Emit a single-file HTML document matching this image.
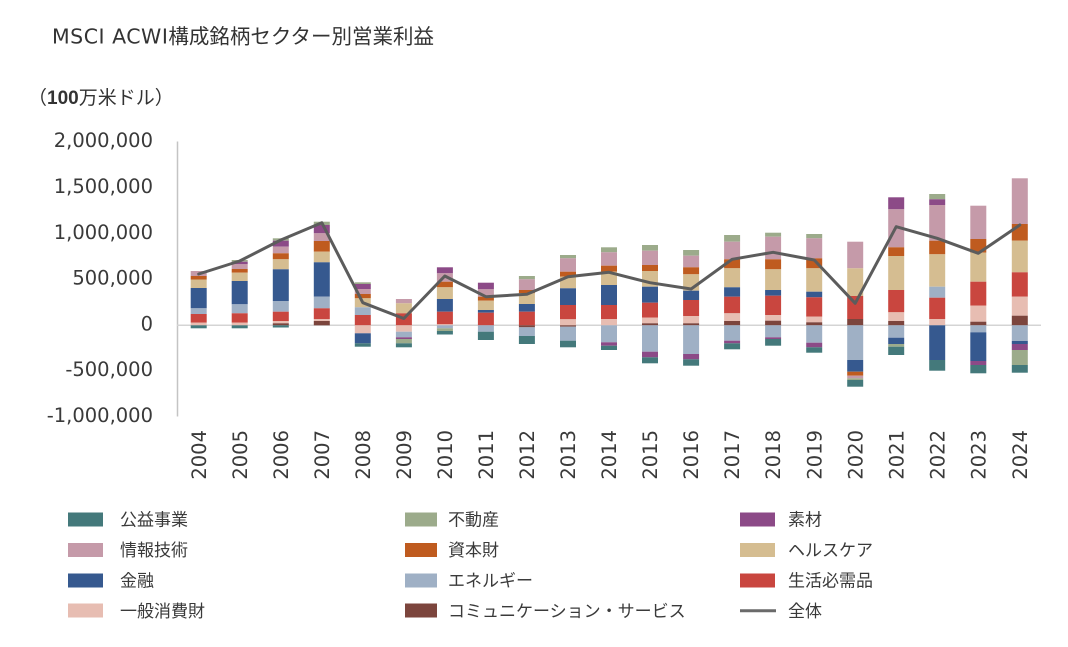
<!DOCTYPE html>
<html>
<head>
<meta charset="utf-8">
<style>
html,body{margin:0;padding:0;background:#fff;}
svg{display:block;}
.ut{fill:#44797b}.re{fill:#9cab8b}.ma{fill:#8c4a87}.it{fill:#c59aa9}.in{fill:#bf5b1f}
.hc{fill:#d5bd91}.fi{fill:#36598f}.en{fill:#9fb0c5}.cs{fill:#c9463f}.cd{fill:#e7bdb2}.cm{fill:#7c453d}
.yl{font-family:"DejaVu Sans","Liberation Sans",sans-serif;font-size:19.5px;fill:#3a3a3a;text-anchor:end;}
.xl{font-family:"DejaVu Sans","Liberation Sans",sans-serif;font-size:19.5px;fill:#3a3a3a;text-anchor:end;}
.lg{font-family:"Liberation Sans","Noto Sans CJK JP",sans-serif;font-size:17px;fill:#3a3a3a;}
</style>
</head>
<body>
<svg width="1068" height="647" viewBox="0 0 1068 647" xmlns="http://www.w3.org/2000/svg">
<rect width="1068" height="647" fill="#fff"/>
<text x="52" y="43.5" style="font-family:'Liberation Sans','Noto Sans CJK JP',sans-serif;font-size:20.5px;fill:#333;"><tspan style="font-family:'DejaVu Sans',sans-serif;letter-spacing:0.5px;">MSCI ACWI</tspan>構成銘柄セクター別営業利益</text>
<text x="28" y="104" style="font-family:'Liberation Sans','Noto Sans CJK JP',sans-serif;font-size:19px;fill:#333;">（<tspan font-weight="bold">100</tspan>万米ドル）</text>

<!-- y labels -->
<text class="yl" x="153" y="147">2,000,000</text>
<text class="yl" x="153" y="193">1,500,000</text>
<text class="yl" x="153" y="239">1,000,000</text>
<text class="yl" x="153" y="284.5">500,000</text>
<text class="yl" x="153" y="330.5">0</text>
<text class="yl" x="153" y="376">-500,000</text>
<text class="yl" x="153" y="422">-1,000,000</text>

<!-- axis -->
<line x1="177.5" y1="141.5" x2="177.5" y2="416.5" stroke="#c4c4c4" stroke-width="1.5"/>
<line x1="177" y1="325.3" x2="1041" y2="325.3" stroke="#d4d4d4" stroke-width="1.5"/>

<!-- bars -->
<g transform="translate(190.7,0)"><rect class="it" x="0" width="16" y="271" height="5"/><rect class="in" x="0" width="16" y="276" height="3.5"/><rect class="hc" x="0" width="16" y="279.5" height="8.5"/><rect class="fi" x="0" width="16" y="288" height="20.3"/><rect class="en" x="0" width="16" y="308.3" height="5.7"/><rect class="cs" x="0" width="16" y="314" height="8.7"/><rect class="cd" x="0" width="16" y="322.7" height="2.6"/><rect class="ut" x="0" width="16" y="325.3" height="3"/></g>
<g transform="translate(231.7,0)"><rect class="re" x="0" width="16" y="260" height="1.7"/><rect class="ma" x="0" width="16" y="261.7" height="2.6"/><rect class="it" x="0" width="16" y="264.3" height="4.7"/><rect class="in" x="0" width="16" y="269" height="3.7"/><rect class="hc" x="0" width="16" y="272.7" height="8.3"/><rect class="fi" x="0" width="16" y="281" height="23.3"/><rect class="en" x="0" width="16" y="304.3" height="9"/><rect class="cs" x="0" width="16" y="313.3" height="9.4"/><rect class="cd" x="0" width="16" y="322.7" height="2.6"/><rect class="ut" x="0" width="16" y="325.3" height="3"/></g>
<g transform="translate(272.8,0)"><rect class="re" x="0" width="16" y="238.3" height="2.4"/><rect class="ma" x="0" width="16" y="240.7" height="6"/><rect class="it" x="0" width="16" y="246.7" height="6.6"/><rect class="in" x="0" width="16" y="253.3" height="6"/><rect class="hc" x="0" width="16" y="259.3" height="10"/><rect class="fi" x="0" width="16" y="269.3" height="31.7"/><rect class="en" x="0" width="16" y="301" height="10.7"/><rect class="cs" x="0" width="16" y="311.7" height="9.3"/><rect class="cd" x="0" width="16" y="321" height="2.3"/><rect class="cm" x="0" width="16" y="323.3" height="2"/><rect class="ut" x="0" width="16" y="325.3" height="2.2"/></g>
<g transform="translate(313.8,0)"><rect class="re" x="0" width="16" y="221.7" height="3.3"/><rect class="ma" x="0" width="16" y="225" height="8.3"/><rect class="it" x="0" width="16" y="233.3" height="7.7"/><rect class="in" x="0" width="16" y="241" height="10.7"/><rect class="hc" x="0" width="16" y="251.7" height="10.6"/><rect class="fi" x="0" width="16" y="262.3" height="34.4"/><rect class="en" x="0" width="16" y="296.7" height="11.6"/><rect class="cs" x="0" width="16" y="308.3" height="10.7"/><rect class="cd" x="0" width="16" y="319" height="2"/><rect class="cm" x="0" width="16" y="321" height="4.3"/></g>
<g transform="translate(354.8,0)"><rect class="re" x="0" width="16" y="282.3" height="1.7"/><rect class="ma" x="0" width="16" y="284" height="5"/><rect class="it" x="0" width="16" y="289" height="5"/><rect class="in" x="0" width="16" y="294" height="4.3"/><rect class="hc" x="0" width="16" y="298.3" height="9"/><rect class="en" x="0" width="16" y="307.3" height="7.7"/><rect class="cs" x="0" width="16" y="315" height="10.3"/><rect class="cd" x="0" width="16" y="325.3" height="8"/><rect class="fi" x="0" width="16" y="333.3" height="10"/><rect class="ut" x="0" width="16" y="343.3" height="3.4"/></g>
<g transform="translate(395.9,0)"><rect class="it" x="0" width="16" y="299" height="4.3"/><rect class="hc" x="0" width="16" y="303.3" height="10"/><rect class="cs" x="0" width="16" y="313.3" height="12"/><rect class="cd" x="0" width="16" y="325.3" height="6.4"/><rect class="en" x="0" width="16" y="331.7" height="5.6"/><rect class="ma" x="0" width="16" y="337.3" height="1.7"/><rect class="re" x="0" width="16" y="339" height="4.3"/><rect class="ut" x="0" width="16" y="343.3" height="4"/></g>
<g transform="translate(436.9,0)"><rect class="ma" x="0" width="16" y="267.3" height="6"/><rect class="it" x="0" width="16" y="273.3" height="8.4"/><rect class="in" x="0" width="16" y="281.7" height="5.6"/><rect class="hc" x="0" width="16" y="287.3" height="11.7"/><rect class="fi" x="0" width="16" y="299" height="12.7"/><rect class="cs" x="0" width="16" y="311.7" height="12.6"/><rect class="cd" x="0" width="16" y="324.3" height="1"/><rect class="en" x="0" width="16" y="325.3" height="3"/><rect class="re" x="0" width="16" y="328.3" height="2.7"/><rect class="ut" x="0" width="16" y="331" height="3.5"/></g>
<g transform="translate(477.9,0)"><rect class="ma" x="0" width="16" y="282.7" height="6.6"/><rect class="it" x="0" width="16" y="289.3" height="7.4"/><rect class="in" x="0" width="16" y="296.7" height="4"/><rect class="hc" x="0" width="16" y="300.7" height="9.3"/><rect class="fi" x="0" width="16" y="310" height="2.7"/><rect class="cs" x="0" width="16" y="312.7" height="12.6"/><rect class="en" x="0" width="16" y="325.3" height="6.4"/><rect class="ut" x="0" width="16" y="331.7" height="8.3"/></g>
<g transform="translate(518.9,0)"><rect class="re" x="0" width="16" y="276" height="3.3"/><rect class="it" x="0" width="16" y="279.3" height="10.7"/><rect class="in" x="0" width="16" y="290" height="3.3"/><rect class="hc" x="0" width="16" y="293.3" height="10.7"/><rect class="fi" x="0" width="16" y="304" height="7.7"/><rect class="cs" x="0" width="16" y="311.7" height="13.6"/><rect class="cm" x="0" width="16" y="325.3" height="2"/><rect class="en" x="0" width="16" y="327.3" height="8.7"/><rect class="ut" x="0" width="16" y="336" height="8"/></g>
<g transform="translate(560,0)"><rect class="re" x="0" width="16" y="255" height="3.3"/><rect class="it" x="0" width="16" y="258.3" height="13.4"/><rect class="in" x="0" width="16" y="271.7" height="5"/><rect class="hc" x="0" width="16" y="276.7" height="11.6"/><rect class="fi" x="0" width="16" y="288.3" height="16.7"/><rect class="cs" x="0" width="16" y="305" height="14.3"/><rect class="cd" x="0" width="16" y="319.3" height="6"/><rect class="cm" x="0" width="16" y="325.3" height="1.4"/><rect class="en" x="0" width="16" y="326.7" height="14"/><rect class="ut" x="0" width="16" y="340.7" height="6.6"/></g>
<g transform="translate(601,0)"><rect class="re" x="0" width="16" y="247.3" height="5"/><rect class="it" x="0" width="16" y="252.3" height="13.4"/><rect class="in" x="0" width="16" y="265.7" height="6"/><rect class="hc" x="0" width="16" y="271.7" height="13.3"/><rect class="fi" x="0" width="16" y="285" height="20"/><rect class="cs" x="0" width="16" y="305" height="14"/><rect class="cd" x="0" width="16" y="319" height="6.3"/><rect class="en" x="0" width="16" y="325.3" height="17"/><rect class="ma" x="0" width="16" y="342.3" height="3.4"/><rect class="ut" x="0" width="16" y="345.7" height="4.3"/></g>
<g transform="translate(642,0)"><rect class="re" x="0" width="16" y="245" height="5.7"/><rect class="it" x="0" width="16" y="250.7" height="14.3"/><rect class="in" x="0" width="16" y="265" height="6"/><rect class="hc" x="0" width="16" y="271" height="15.7"/><rect class="fi" x="0" width="16" y="286.7" height="16"/><rect class="cs" x="0" width="16" y="302.7" height="15"/><rect class="cd" x="0" width="16" y="317.7" height="5.6"/><rect class="cm" x="0" width="16" y="323.3" height="2"/><rect class="en" x="0" width="16" y="325.3" height="26.4"/><rect class="ma" x="0" width="16" y="351.7" height="5.6"/><rect class="ut" x="0" width="16" y="357.3" height="6"/></g>
<g transform="translate(683.1,0)"><rect class="re" x="0" width="16" y="250" height="5.7"/><rect class="it" x="0" width="16" y="255.7" height="11.6"/><rect class="in" x="0" width="16" y="267.3" height="7"/><rect class="hc" x="0" width="16" y="274.3" height="16.4"/><rect class="fi" x="0" width="16" y="290.7" height="9.3"/><rect class="cs" x="0" width="16" y="300" height="16"/><rect class="cd" x="0" width="16" y="316" height="7.3"/><rect class="cm" x="0" width="16" y="323.3" height="2"/><rect class="en" x="0" width="16" y="325.3" height="28.7"/><rect class="ma" x="0" width="16" y="354" height="5.3"/><rect class="ut" x="0" width="16" y="359.3" height="6.4"/></g>
<g transform="translate(724.1,0)"><rect class="re" x="0" width="16" y="235" height="6.7"/><rect class="it" x="0" width="16" y="241.7" height="17.6"/><rect class="in" x="0" width="16" y="259.3" height="9"/><rect class="hc" x="0" width="16" y="268.3" height="19"/><rect class="fi" x="0" width="16" y="287.3" height="9.4"/><rect class="cs" x="0" width="16" y="296.7" height="16.6"/><rect class="cd" x="0" width="16" y="313.3" height="7.7"/><rect class="cm" x="0" width="16" y="321" height="4.3"/><rect class="en" x="0" width="16" y="325.3" height="15.4"/><rect class="ma" x="0" width="16" y="340.7" height="2.6"/><rect class="ut" x="0" width="16" y="343.3" height="6"/></g>
<g transform="translate(765.1,0)"><rect class="re" x="0" width="16" y="232.7" height="4"/><rect class="it" x="0" width="16" y="236.7" height="22.6"/><rect class="in" x="0" width="16" y="259.3" height="10"/><rect class="hc" x="0" width="16" y="269.3" height="20.7"/><rect class="fi" x="0" width="16" y="290" height="5.7"/><rect class="cs" x="0" width="16" y="295.7" height="19.3"/><rect class="cd" x="0" width="16" y="315" height="5.7"/><rect class="cm" x="0" width="16" y="320.7" height="4.6"/><rect class="en" x="0" width="16" y="325.3" height="12"/><rect class="ma" x="0" width="16" y="337.3" height="1.7"/><rect class="ut" x="0" width="16" y="339" height="6.7"/></g>
<g transform="translate(806.2,0)"><rect class="re" x="0" width="16" y="234" height="4.3"/><rect class="it" x="0" width="16" y="238.3" height="20"/><rect class="in" x="0" width="16" y="258.3" height="10"/><rect class="hc" x="0" width="16" y="268.3" height="23.4"/><rect class="fi" x="0" width="16" y="291.7" height="5.6"/><rect class="cs" x="0" width="16" y="297.3" height="19.4"/><rect class="cd" x="0" width="16" y="316.7" height="5.6"/><rect class="cm" x="0" width="16" y="322.3" height="3"/><rect class="en" x="0" width="16" y="325.3" height="17.4"/><rect class="ma" x="0" width="16" y="342.7" height="4.6"/><rect class="ut" x="0" width="16" y="347.3" height="5.4"/></g>
<g transform="translate(847.2,0)"><rect class="it" x="0" width="16" y="241.7" height="26.6"/><rect class="hc" x="0" width="16" y="268.3" height="27.7"/><rect class="cs" x="0" width="16" y="296" height="23"/><rect class="cm" x="0" width="16" y="319" height="6.3"/><rect class="en" x="0" width="16" y="325.3" height="34.7"/><rect class="fi" x="0" width="16" y="360" height="11.7"/><rect class="in" x="0" width="16" y="371.7" height="4"/><rect class="it" x="0" width="16" y="375.7" height="2.6"/><rect class="re" x="0" width="16" y="378.3" height="1.7"/><rect class="ut" x="0" width="16" y="380" height="6.7"/></g>
<g transform="translate(888.2,0)"><rect class="ma" x="0" width="16" y="197.3" height="12"/><rect class="it" x="0" width="16" y="209.3" height="38"/><rect class="in" x="0" width="16" y="247.3" height="8.7"/><rect class="hc" x="0" width="16" y="256" height="34"/><rect class="cs" x="0" width="16" y="290" height="22.3"/><rect class="cd" x="0" width="16" y="312.3" height="8.7"/><rect class="cm" x="0" width="16" y="321" height="4.3"/><rect class="en" x="0" width="16" y="325.3" height="12.4"/><rect class="fi" x="0" width="16" y="337.7" height="6.3"/><rect class="re" x="0" width="16" y="344" height="2.7"/><rect class="ut" x="0" width="16" y="346.7" height="8.3"/></g>
<g transform="translate(929.2,0)"><rect class="re" x="0" width="16" y="194" height="5.3"/><rect class="ma" x="0" width="16" y="199.3" height="5.7"/><rect class="it" x="0" width="16" y="205" height="35.7"/><rect class="in" x="0" width="16" y="240.7" height="13.6"/><rect class="hc" x="0" width="16" y="254.3" height="32.4"/><rect class="en" x="0" width="16" y="286.7" height="11"/><rect class="cs" x="0" width="16" y="297.7" height="21.3"/><rect class="cd" x="0" width="16" y="319" height="6.3"/><rect class="fi" x="0" width="16" y="325.3" height="34.7"/><rect class="ut" x="0" width="16" y="360" height="10.7"/></g>
<g transform="translate(970.3,0)"><rect class="it" x="0" width="16" y="205.7" height="33.3"/><rect class="in" x="0" width="16" y="239" height="13.7"/><rect class="hc" x="0" width="16" y="252.7" height="29"/><rect class="cs" x="0" width="16" y="281.7" height="24"/><rect class="cd" x="0" width="16" y="305.7" height="16"/><rect class="cm" x="0" width="16" y="321.7" height="3.6"/><rect class="en" x="0" width="16" y="325.3" height="7"/><rect class="fi" x="0" width="16" y="332.3" height="28.7"/><rect class="ma" x="0" width="16" y="361" height="4"/><rect class="ut" x="0" width="16" y="365" height="8.3"/></g>
<g transform="translate(1011.8,0)"><rect class="it" x="0" width="16" y="178.3" height="45.7"/><rect class="in" x="0" width="16" y="224" height="16.7"/><rect class="hc" x="0" width="16" y="240.7" height="31.6"/><rect class="cs" x="0" width="16" y="272.3" height="24.4"/><rect class="cd" x="0" width="16" y="296.7" height="19"/><rect class="cm" x="0" width="16" y="315.7" height="9.6"/><rect class="en" x="0" width="16" y="325.3" height="15.7"/><rect class="fi" x="0" width="16" y="341" height="3"/><rect class="ma" x="0" width="16" y="344" height="6"/><rect class="re" x="0" width="16" y="350" height="15"/><rect class="ut" x="0" width="16" y="365" height="7.7"/></g>

<!-- total line -->
<polyline fill="none" stroke="#5c5c5c" stroke-width="3" stroke-linejoin="round" stroke-linecap="round"
points="198.7,274 239.7,261 280.8,240 321.8,222.7 362.8,302.7 403.8,318.5 444.8,276 485.9,296.7 526.9,294.3 568,276.7 609,272.3 650,282.7 691.1,289 732.1,259.3 773.1,252.3 814.2,260 855.2,303.3 896.2,226.7 937.2,238.3 978.3,253.3 1019.8,225"/>

<!-- x labels -->
<text class="xl" transform="translate(205.8,430) rotate(-90)" x="0" y="0">2004</text>
<text class="xl" transform="translate(246.8,430) rotate(-90)" x="0" y="0">2005</text>
<text class="xl" transform="translate(287.9,430) rotate(-90)" x="0" y="0">2006</text>
<text class="xl" transform="translate(328.9,430) rotate(-90)" x="0" y="0">2007</text>
<text class="xl" transform="translate(369.9,430) rotate(-90)" x="0" y="0">2008</text>
<text class="xl" transform="translate(411,430) rotate(-90)" x="0" y="0">2009</text>
<text class="xl" transform="translate(452,430) rotate(-90)" x="0" y="0">2010</text>
<text class="xl" transform="translate(493,430) rotate(-90)" x="0" y="0">2011</text>
<text class="xl" transform="translate(534,430) rotate(-90)" x="0" y="0">2012</text>
<text class="xl" transform="translate(575.1,430) rotate(-90)" x="0" y="0">2013</text>
<text class="xl" transform="translate(616.1,430) rotate(-90)" x="0" y="0">2014</text>
<text class="xl" transform="translate(657.1,430) rotate(-90)" x="0" y="0">2015</text>
<text class="xl" transform="translate(698.2,430) rotate(-90)" x="0" y="0">2016</text>
<text class="xl" transform="translate(739.2,430) rotate(-90)" x="0" y="0">2017</text>
<text class="xl" transform="translate(780.2,430) rotate(-90)" x="0" y="0">2018</text>
<text class="xl" transform="translate(821.3,430) rotate(-90)" x="0" y="0">2019</text>
<text class="xl" transform="translate(862.3,430) rotate(-90)" x="0" y="0">2020</text>
<text class="xl" transform="translate(903.3,430) rotate(-90)" x="0" y="0">2021</text>
<text class="xl" transform="translate(944.3,430) rotate(-90)" x="0" y="0">2022</text>
<text class="xl" transform="translate(985.4,430) rotate(-90)" x="0" y="0">2023</text>
<text class="xl" transform="translate(1026.9,430) rotate(-90)" x="0" y="0">2024</text>

<!-- legend -->
<rect class="ut" x="68" y="512.5" width="35" height="14"/><text class="lg" x="120" y="525.5">公益事業</text>
<rect class="it" x="68" y="543" width="35" height="14"/><text class="lg" x="120" y="556">情報技術</text>
<rect class="fi" x="68" y="573.5" width="35" height="14"/><text class="lg" x="120" y="586.5">金融</text>
<rect class="cd" x="68" y="603.5" width="35" height="14"/><text class="lg" x="120" y="617">一般消費財</text>

<rect class="re" x="405" y="512.5" width="32" height="14"/><text class="lg" x="448" y="525.5">不動産</text>
<rect class="in" x="405" y="543" width="32" height="14"/><text class="lg" x="448" y="556">資本財</text>
<rect class="en" x="405" y="573.5" width="32" height="14"/><text class="lg" x="448" y="586.5">エネルギー</text>
<rect class="cm" x="405" y="603.5" width="32" height="14"/><text class="lg" x="448" y="617">コミュニケーション・サービス</text>

<rect class="ma" x="740" y="512.5" width="35" height="14"/><text class="lg" x="788" y="525.5">素材</text>
<rect class="hc" x="740" y="543" width="35" height="14"/><text class="lg" x="788" y="556">ヘルスケア</text>
<rect class="cs" x="740" y="573.5" width="35" height="14"/><text class="lg" x="788" y="586.5">生活必需品</text>
<line x1="740" y1="610.7" x2="776" y2="610.7" stroke="#6a6a6a" stroke-width="3"/><text class="lg" x="788" y="617">全体</text>
</svg>
</body>
</html>
